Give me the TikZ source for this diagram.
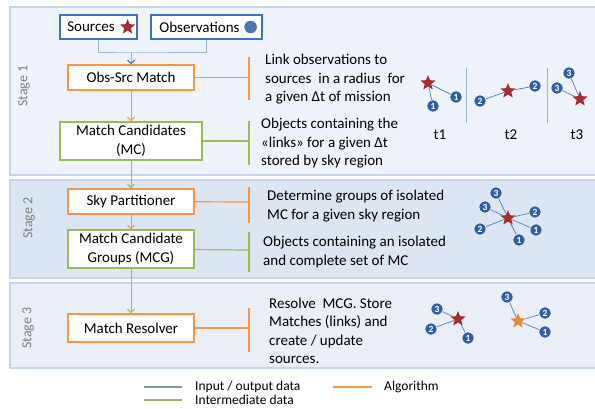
\documentclass[tikz,border=0pt]{standalone}
\usepackage{fontspec}
\setmainfont{Carlito}
\usetikzlibrary{shapes.geometric, arrows.meta, positioning}
\definecolor{iodark}{RGB}{65,113,190}
\definecolor{iolight}{RGB}{150,182,222}
\definecolor{iokey}{RGB}{128,150,190}
\definecolor{algorange}{RGB}{247,150,70}
\definecolor{midgreen}{RGB}{155,187,89}
\definecolor{stageone}{RGB}{238,242,250}
\definecolor{stagetwo}{RGB}{220,230,242}
\definecolor{stagethree}{RGB}{233,238,247}
\definecolor{stageedge}{RGB}{198,213,236}
\definecolor{stagegray}{RGB}{128,128,128}
\definecolor{obsblue}{RGB}{46,95,165}
\definecolor{linkblue}{RGB}{79,129,189}
\definecolor{srcred}{RGB}{165,45,50}
\definecolor{newsrc}{RGB}{230,135,55}

\begin{document}
\begin{tikzpicture}[
    x=1pt, y=-1pt,
    every node/.style={font=\fontsize{15}{18.5}\selectfont},
    stage/.style={draw=stageedge, line width=1.2pt},
    stagelbl/.style={rotate=90, text=stagegray, font=\fontsize{14}{14}\selectfont},
    iobox/.style={rectangle, draw=iodark, fill=white, line width=1.2pt, minimum height=24pt, inner sep=0pt},
    algbox/.style={rectangle, draw=algorange, fill=white, line width=1.2pt, minimum width=126pt, minimum height=25pt, inner sep=0pt, align=center},
    databox/.style={rectangle, draw=midgreen, fill=white, line width=1.2pt, minimum height=38pt, inner sep=0pt, align=center, font=\fontsize{15}{19}\selectfont},
    note/.style={anchor=west, align=left, inner sep=0pt},
    ioline/.style={iolight, line width=1pt},
    ioarr/.style={iolight, line width=1pt, -{Straight Barb[length=3.5pt, width=7pt, color=iodark]}},
    algarr/.style={algorange, line width=1pt, -{Straight Barb[length=3.5pt, width=7pt]}},
    dataarr/.style={midgreen, line width=1pt, -{Straight Barb[length=3.5pt, width=7pt]}},
    algtie/.style={algorange, line width=1.2pt},
    datatie/.style={midgreen, line width=1.2pt},
    srcstar/.style={star, star points=5, star point ratio=2.3, fill=srcred, inner sep=0pt, minimum size=16pt},
    obsnum/.style={circle, fill=obsblue, draw=white, line width=0.5pt, inner sep=0pt, minimum size=12pt, text=white, font=\bfseries\fontsize{9.5}{9.5}\selectfont},
    link/.style={linkblue, line width=0.7pt},
    sep/.style={iolight, line width=1pt},
    keyline/.style={line width=1.2pt},
    key/.style={anchor=west, inner sep=0pt, font=\fontsize{13.5}{13.5}\selectfont}
]
\useasboundingbox (0,0) rectangle (595,408);

% stage panels
\draw[stage, fill=stageone] (10,7) rectangle (605,175);
\draw[stage, fill=stagetwo] (10,180) rectangle (605,278);
\draw[stage, fill=stagethree] (10,283) rectangle (605,368);
\node[stagelbl] (st1) at (24,86) {Stage 1};
\node[stagelbl] (st2) at (29,218) {Stage 2};
\node[stagelbl] (st3) at (28,328) {Stage 3};

% pipeline
\node[iobox, minimum width=77pt] (src) at (98.5,27) {Sources\kern15pt};
\node[srcstar] (srcmark) at ([xshift=-10pt]src.east) {};
\node[iobox, minimum width=111pt] (obs) at (206.5,27) {Observations\kern14pt};
\node[circle, fill=obsblue!85!white, draw=iodark, inner sep=0pt, minimum size=12pt] (obsmark) at ([xshift=-12pt]obs.east) {};
\node[algbox] (osm) at (131,77.5) {Obs-Src Match};
\node[databox, minimum width=142pt] (mc) at (131,141) {Match Candidates\\(MC)};
\node[algbox] (skyp) at (131,201.5) {Sky Partitioner};
\node[databox, minimum width=126pt] (mcg) at (131,249) {Match Candidate\\Groups (MCG)};
\node[algbox, minimum height=28pt] (mres) at (131,328) {Match Resolver};

\coordinate (join) at (131,52);
\draw[ioline] (src.south) |- (join) -| (obs.south);
\draw[ioarr] (join) -- (osm);
\draw[algarr] (osm) -- (mc);
\draw[dataarr] (mc) -- (skyp);
\draw[algarr] (skyp) -- (mcg);
\draw[dataarr] (mcg) -- (mres);

% side notes
\coordinate (osmbar) at (249,77.5);
\coordinate (mcbar) at (249,141);
\coordinate (skypbar) at (249,202);
\coordinate (mcgbar) at (249,250);
\coordinate (mresbar) at (249,328);
\draw[algtie] (osm) -- (osmbar);
\draw[algtie] (249,57) -- (249,100);
\draw[datatie] (mc) -- (mcbar);
\draw[datatie] (249,121) -- (249,165);
\draw[algtie] (skyp) -- (skypbar);
\draw[algtie] (249,187) -- (249,223);
\draw[datatie] (mcg) -- (mcgbar);
\draw[datatie] (249,232) -- (249,272);
\draw[algtie] (mres) -- (mresbar);
\draw[algtie] (249,308) -- (249,352);

\node[note] (osmtxt) at (265,79.5) {Link observations to\\sources\ \ in a radius\ \ for\\a given Δt of mission};
\node[note] (mctxt) at (261,143.5) {Objects containing the\\«links» for a given Δt\\stored by sky region};
\node[note] (skyptxt) at (267,206) {Determine groups of isolated\\MC for a given sky region};
\node[note] (mcgtxt) at (263,252) {Objects containing an isolated\\and complete set of MC};
\node[note] (mrestxt) at (269,331) {Resolve\ \ MCG. Store\\Matches (links) and\\create / update\\sources.};

% stage 1: links per time step
\node[srcstar] (s1) at (428,83) {};
\node[obsnum] (o1a) at (456,97) {1};
\node[obsnum] (o1b) at (433,106) {1};
\draw[link] (s1) -- (o1a) (s1) -- (o1b);
\draw[sep] (466,68) -- (466,123);
\node[obsnum] (o2a) at (480,101) {2};
\node[srcstar] (s2) at (508,91) {};
\node[obsnum] (o2b) at (535,86) {2};
\draw[link] (s2) -- (o2a) (s2) -- (o2b);
\draw[sep] (547,68) -- (547,123);
\node[obsnum] (o3a) at (569,73) {3};
\node[obsnum] (o3b) at (557,88) {3};
\node[srcstar] (s3) at (580,99) {};
\draw[link] (s3) -- (o3a) (s3) -- (o3b);
\node (t1) at (440,135) {t1};
\node (t2) at (511,135) {t2};
\node (t3) at (577,135) {t3};

% stage 2: isolated group
\node[srcstar] (s4) at (508,218) {};
\node[obsnum] (o4a) at (496,193) {3};
\node[obsnum] (o4b) at (485,207) {3};
\node[obsnum] (o4c) at (535,212) {2};
\node[obsnum] (o4d) at (480,229) {2};
\node[obsnum] (o4e) at (536,230) {1};
\node[obsnum] (o4f) at (519,240) {1};
\draw[link] (s4) -- (o4a) (s4) -- (o4b) (s4) -- (o4c) (s4) -- (o4d) (s4) -- (o4e) (s4) -- (o4f);

% stage 3: resolved and new source
\node[srcstar] (s5) at (458,319) {};
\node[obsnum] (o5a) at (437,309) {3};
\node[obsnum] (o5b) at (431,329) {2};
\node[obsnum] (o5c) at (468,338) {1};
\draw[link] (s5) -- (o5a) (s5) -- (o5b) (s5) -- (o5c);
\node[srcstar, fill=newsrc] (s6) at (518,321) {};
\node[obsnum] (o6a) at (507,297) {3};
\node[obsnum] (o6b) at (545,313) {2};
\node[obsnum] (o6c) at (545,332) {1};
\draw[link] (s6) -- (o6a) (s6) -- (o6b) (s6) -- (o6c);

% legend
\node[key] (kio) at (195,387) {Input / output data};
\node[key] (kalg) at (384,387) {Algorithm};
\node[key] (kmid) at (195,400) {Intermediate data};
\draw[keyline, iokey] ([xshift=-13pt]kio.west) -- ++(-38,0);
\draw[keyline, algorange] ([xshift=-12pt]kalg.west) -- ++(-39,0);
\draw[keyline, midgreen] ([xshift=-13pt]kmid.west) -- ++(-38,0);
\end{tikzpicture}
\end{document}
